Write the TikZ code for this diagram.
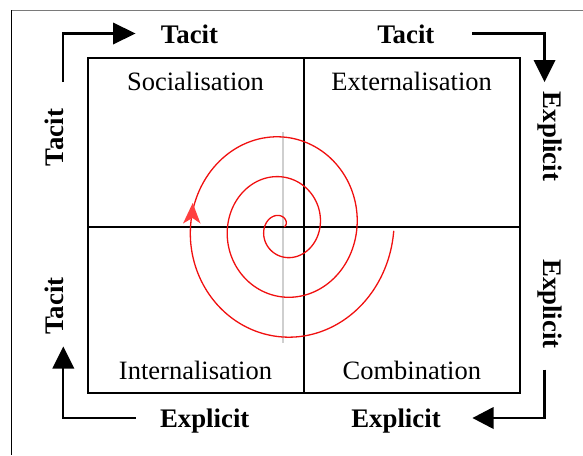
\documentclass[tikz,border=0pt]{standalone}
\usepackage{fontspec}
\setmainfont{Liberation Serif}
\definecolor{spiralred}{HTML}{F01010}
\definecolor{arrowred}{HTML}{FF4040}
\definecolor{framegray}{HTML}{7A7A7A}
\definecolor{crossgray}{HTML}{CFCFCF}
\begin{document}
\begin{tikzpicture}[x=1pt,y=-1pt,
  quadlabel/.style={font=\fontsize{26.5}{29}\selectfont, anchor=base, inner sep=0pt},
  sidelabel/.style={font=\fontsize{26.8}{29}\bfseries\selectfont, inner sep=0pt},
  flowline/.style={line width=2.2pt, line cap=butt, line join=miter},
  headfill/.style={fill=black, draw=none}]
\useasboundingbox (0,0) rectangle (583,455);
% outer frame
\draw[framegray, line width=1pt] (11.5,10) -- (583,10);
\draw[black, line width=1.2pt] (11.5,10) -- (11.5,455);
% gray cross
\draw[crossgray, line width=2.2pt] (283,132) -- (283,343);
\draw[crossgray, line width=2.2pt] (180,227) -- (395,227);
% main grid
\node[draw, line width=1.3pt, minimum width=432pt, minimum height=335pt, inner sep=0pt] (grid) at (304,225.5) {};
\coordinate (vt) at (304,58);
\coordinate (vb) at (304,393);
\coordinate (hl) at (88,227);
\coordinate (hr) at (520,227);
\draw[line width=1.3pt] (vt) -- (vb);
\draw[line width=1.3pt] (hl) -- (hr);
% spiral
\draw[spiralred, line width=1.3pt] plot[domain=0.03:3, samples=400, smooth]
  ({283+37*\x*cos(360*\x)}, {227-40*\x*sin(360*\x)});
\fill[arrowred] (192.7,203) -- (200.5,223.5) -- (192.5,218) -- (183,223.5) -- cycle;
% quadrant labels
\node[quadlabel] (soc) at (195.5,90.5) {Socialisation};
\node[quadlabel] (ext) at (411.7,90.5) {Externalisation};
\node[quadlabel] (int) at (195.5,379) {Internalisation};
\node[quadlabel] (com) at (411.8,379) {Combination};
% side labels
\node[sidelabel, anchor=base] (t1) at (189.5,43) {Tacit};
\node[sidelabel, anchor=base] (t2) at (405.8,43) {Tacit};
\node[sidelabel, rotate=-90] (e1) at (550,136.5) {Explicit};
\node[sidelabel, rotate=-90] (e2) at (550,304) {Explicit};
\node[sidelabel, anchor=base] (e3) at (396,427) {Explicit};
\node[sidelabel, anchor=base] (e4) at (204.7,427) {Explicit};
\node[sidelabel, rotate=90] (t3) at (54.5,306) {Tacit};
\node[sidelabel, rotate=90] (t4) at (54.5,137.5) {Tacit};
% flow arrows
\coordinate (a1s) at (63.3,82);
\coordinate (a1c) at (63.3,33.5);
\coordinate (a1e) at (114,33.5);
\draw[flowline] (a1s) -- (a1c) -- (a1e);
\fill[headfill] (113,22.5) -- (135.5,33.5) -- (113,44.5) -- cycle;
\coordinate (a2s) at (472,33.5);
\coordinate (a2c) at (544.5,33.5);
\coordinate (a2e) at (544.5,61);
\draw[flowline] (a2s) -- (a2c) -- (a2e);
\fill[headfill] (533.5,60) -- (544.5,82) -- (555.5,60) -- cycle;
\coordinate (a3s) at (544.5,369.5);
\coordinate (a3c) at (544.5,418);
\coordinate (a3e) at (492,418);
\draw[flowline] (a3s) -- (a3c) -- (a3e);
\fill[headfill] (493.5,407) -- (472.5,418) -- (493.5,429) -- cycle;
\coordinate (a4s) at (135.5,418);
\coordinate (a4c) at (63.3,418);
\coordinate (a4e) at (63.3,367);
\draw[flowline] (a4s) -- (a4c) -- (a4e);
\fill[headfill] (52.3,368.5) -- (63.3,346.5) -- (74.3,368.5) -- cycle;
\end{tikzpicture}
\end{document}
